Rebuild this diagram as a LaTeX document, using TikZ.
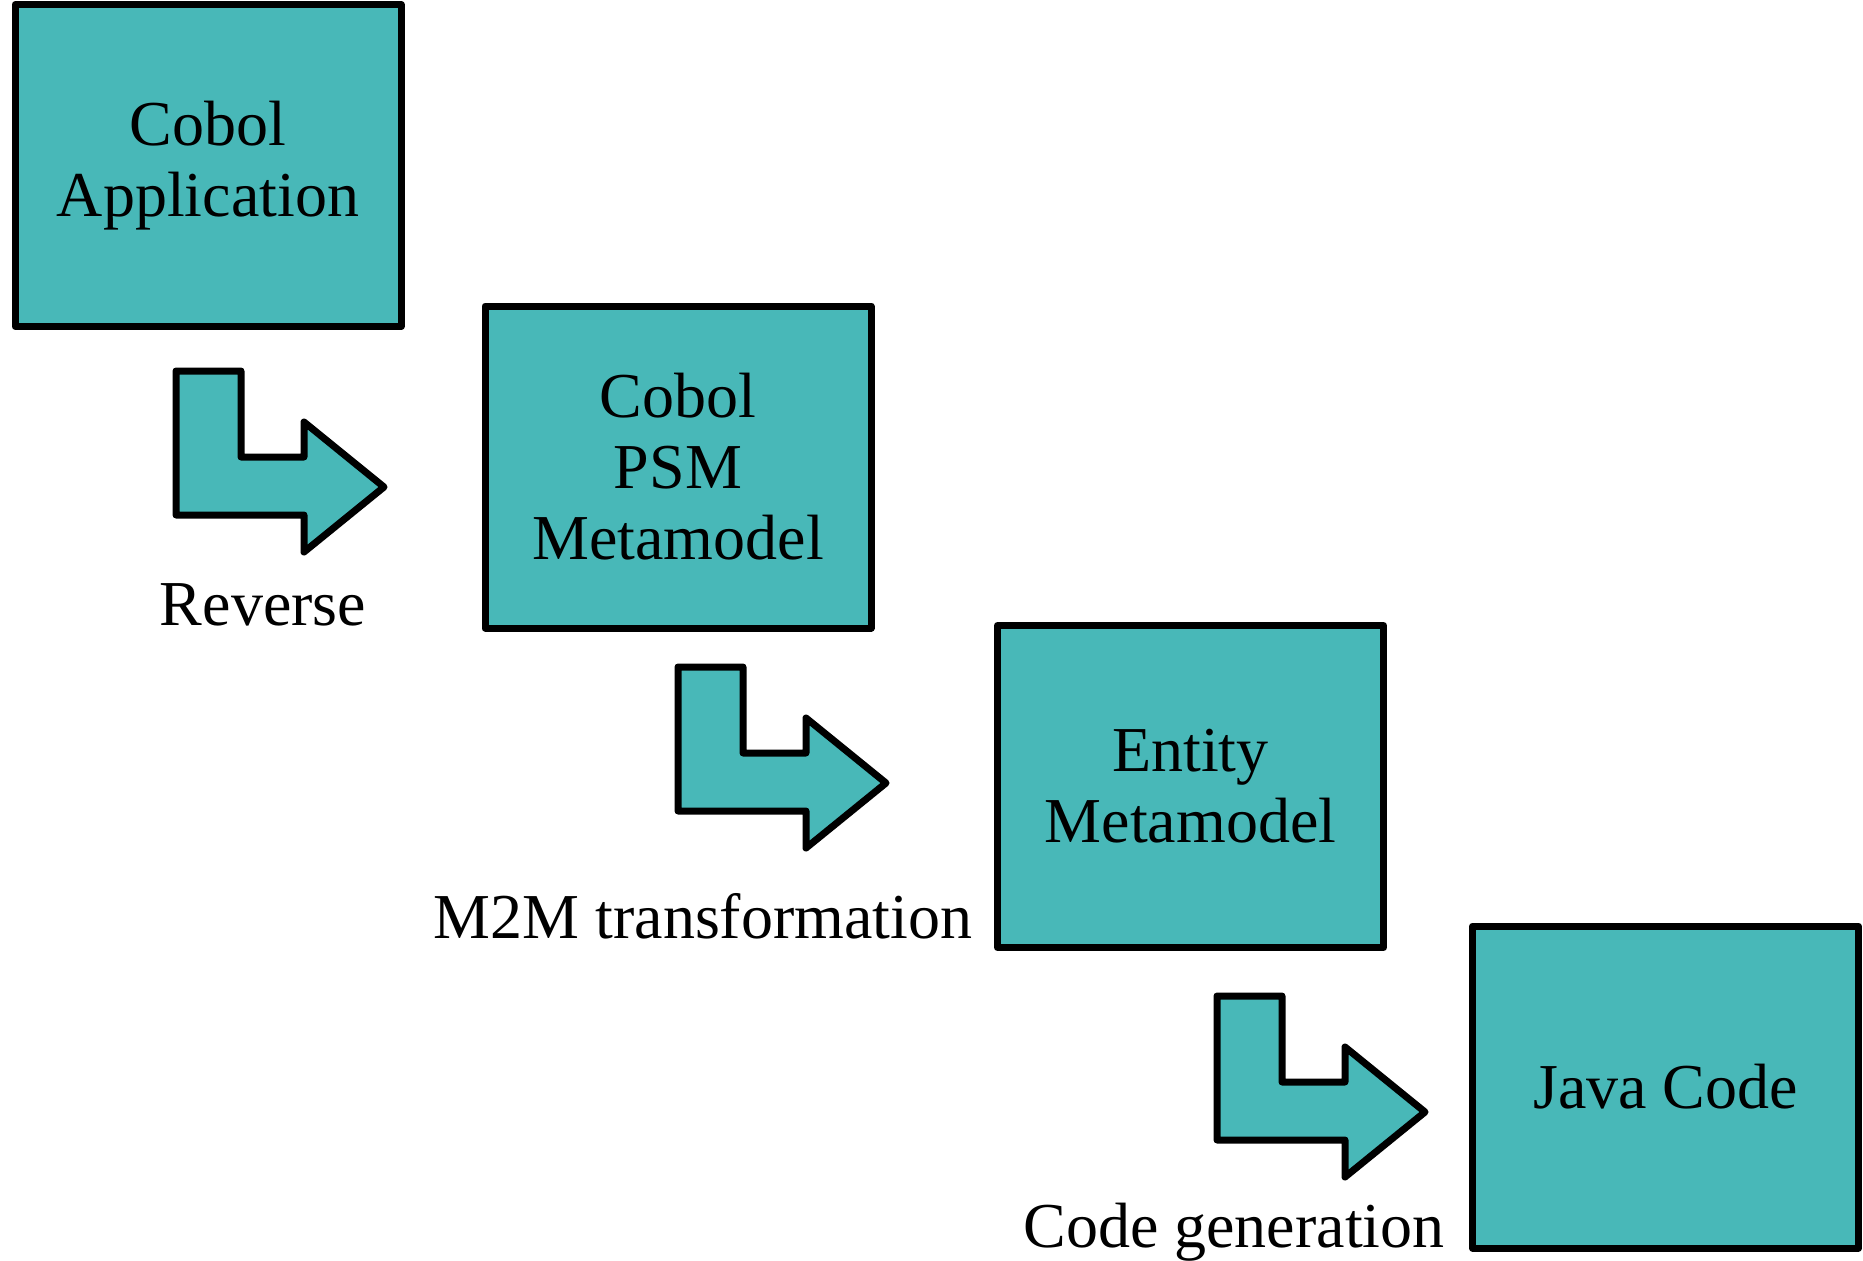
\documentclass[tikz,border=0pt]{standalone}
\usepackage{fontspec}
\setmainfont{Liberation Serif}
\definecolor{boxteal}{RGB}{72,184,184}
\tikzset{
  box/.style={draw, line width=3.5pt, fill=boxteal, line join=round,
    minimum width=193pt, minimum height=161pt, align=center, inner sep=0pt,
    font=\fontsize{32}{35.5}\selectfont},
  lbl/.style={anchor=base, inner sep=0pt, font=\fontsize{32}{35.5}\selectfont},
  arrowshape/.style={draw, line width=3.5pt, fill=boxteal, line join=round},
  bentarrow/.pic={
    \path[arrowshape] (0,0) -- (65,0) -- (65,86) -- (128,86) -- (128,51)
      -- (208,116) -- (128,181) -- (128,144) -- (0,144) -- cycle;
  }
}
\begin{document}
\begin{tikzpicture}[x=0.5pt, y=-0.5pt]
\useasboundingbox (0,0) rectangle (1863,1260);
% boxes
\node[box] (cobolapp) at (208,165.5) {Cobol\\Application};
\node[box] (cobolpsm) at (678,467) {Cobol\\PSM\\Metamodel};
\node[box] (entity) at (1190.5,786.5) {Entity\\Metamodel};
\node[box] (javacode) at (1665.5,1087) {Java Code};
% steps
\pic at (176,371) {bentarrow};
\pic at (678,667) {bentarrow};
\pic at (1217,996) {bentarrow};
\node[lbl] (reverse) at (263,625) {Reverse};
\node[lbl] (m2m) at (703,938) {M2M transformation};
\node[lbl] (codegen) at (1234,1247) {Code generation};
\end{tikzpicture}
\end{document}
